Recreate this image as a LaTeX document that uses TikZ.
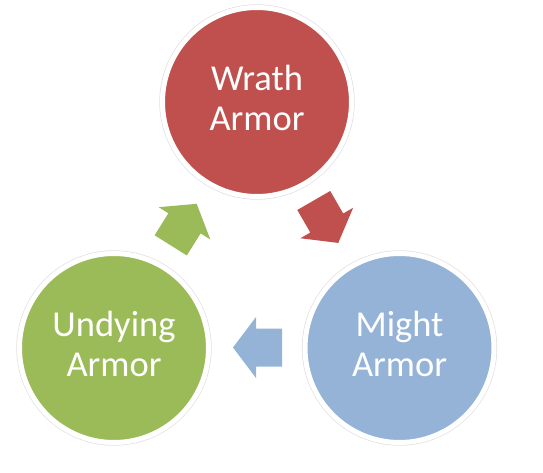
\documentclass[tikz,border=0pt]{standalone}
\usepackage{fontspec}
\setmainfont{Carlito}
\usetikzlibrary{shadows,calc}
\definecolor{wrathred}{HTML}{C0504D}
\definecolor{mightblue}{HTML}{95B3D7}
\definecolor{undyinggreen}{HTML}{9BBB59}
\tikzset{
  armorcircle/.style={circle, draw=white, line width=5pt, minimum size=189pt, inner sep=0pt,
    drop shadow={opacity=0.25, shadow xshift=1.2pt, shadow yshift=-1.8pt},
    preaction={draw=black!12, line width=6.4pt}},
  armortext/.style={text=white, align=center, font=\fontsize{36.5}{40}\selectfont, yshift=4pt},
  arrowshadow/.style={drop shadow={opacity=0.22, shadow xshift=1pt, shadow yshift=-1.5pt}},
  blockpath/.pic={
    \path[pic actions] (-24.5,-19) -- (1.5,-19) -- (1.5,-30.5) -- (24.5,0)
      -- (1.5,30.5) -- (1.5,19) -- (-24.5,19) -- cycle;
  }
}
\begin{document}
\begin{tikzpicture}[x=1pt,y=1pt]
\useasboundingbox (0,0) rectangle (543,472);
\node[armorcircle, fill=wrathred] (wra) at (257,370) {};
\node[armorcircle, fill=mightblue] (mig) at (399.5,124) {};
\node[armorcircle, fill=undyinggreen] (und) at (114,124) {};
\node[armortext] (wrat) at (wra.center) {Wrath\\Armor};
\node[armortext] (migt) at (mig.center) {Might\\Armor};
\node[armortext] (undt) at (und.center) {Undying\\Armor};
\coordinate (a1) at (326,250.3);
\coordinate (a2) at (257.5,124.5);
\coordinate (a3) at (183.7,247.4);
\pic[fill=wrathred, arrowshadow, rotate=-60] at (a1) {blockpath};
\pic[fill=mightblue, arrowshadow, rotate=180] at (a2) {blockpath};
\pic[fill=undyinggreen, arrowshadow, rotate=58] at (a3) {blockpath};
\end{tikzpicture}
\end{document}
